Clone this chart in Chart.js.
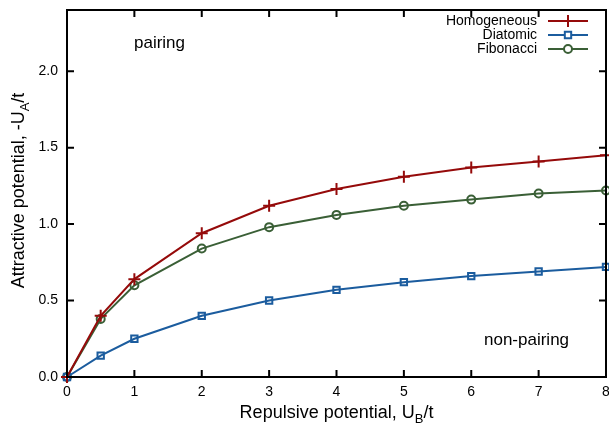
<!DOCTYPE html>
<html>
<head>
<meta charset="utf-8">
<script src="https://cdn.jsdelivr.net/npm/chart.js@4/dist/chart.umd.min.js"></script>
<style>
  html, body { margin: 0; padding: 0; background: #fff; }
  #wrap { width: 609px; height: 431px; }
</style>
</head>
<body>
<div id="wrap"><canvas id="chart" width="609" height="431"></canvas></div>
<script>
const xValues = [0, 0.5, 1, 2, 3, 4, 5, 6, 7, 8];
const homogeneous = [0, 0.40, 0.64, 0.94, 1.12, 1.23, 1.31, 1.37, 1.41, 1.45];
const diatomic = [0, 0.14, 0.25, 0.40, 0.50, 0.57, 0.62, 0.66, 0.69, 0.72];
const fibonacci = [0, 0.38, 0.60, 0.84, 0.98, 1.06, 1.12, 1.16, 1.20, 1.22];
const xTicks = [0, 1, 2, 3, 4, 5, 6, 7, 8];
const yTicks = [0, 0.5, 1.0, 1.5, 2.0];

const RED = "#950a0a";
const BLUE = "#1b5c9e";
const GREEN = "#3a5f36";
const FONT = "'Liberation Sans', Arial, sans-serif";

function toPoints(ys) {
  return xValues.map((x, i) => ({ x: x, y: ys[i] }));
}

const series = [
  { label: "Homogeneous", data: homogeneous, color: RED, style: "cross", radius: 6 },
  { label: "Diatomic", data: diatomic, color: BLUE, style: "rect", radius: 4.5 },
  { label: "Fibonacci", data: fibonacci, color: GREEN, style: "circle", radius: 4 }
];

// draws tick labels, inward ticks, axis titles with subscripts, legend and labels
const decorations = {
  id: "decorations",
  afterDraw(chart) {
    const c = chart.ctx;
    const a = chart.chartArea;
    const xs = chart.scales.x, ys = chart.scales.y;
    c.save();
    c.strokeStyle = "#000";
    c.fillStyle = "#000";
    c.lineWidth = 2;
    c.font = "14px " + FONT;
    xTicks.forEach(v => {
      const px = xs.getPixelForValue(v);
      c.beginPath();
      c.moveTo(px, a.bottom); c.lineTo(px, a.bottom - 7);
      c.moveTo(px, a.top); c.lineTo(px, a.top + 7);
      c.stroke();
      c.textAlign = "center";
      c.textBaseline = "middle";
      c.fillText(String(v), px, a.bottom + 15);
    });
    yTicks.forEach(v => {
      const py = ys.getPixelForValue(v);
      c.beginPath();
      c.moveTo(a.left, py); c.lineTo(a.left + 7, py);
      c.moveTo(a.right, py); c.lineTo(a.right - 7, py);
      c.stroke();
      c.textAlign = "right";
      c.textBaseline = "middle";
      c.fillText(v.toFixed(1), a.left - 9, py);
    });
    c.strokeRect(a.left, a.top, a.right - a.left, a.bottom - a.top);

    // text with subscript
    function subText(parts, x, y) {
      let w = 0;
      parts.forEach(p => { c.font = (p.sub ? "13px " : "18px ") + FONT; w += c.measureText(p.t).width; });
      let cx = x - w / 2;
      parts.forEach(p => {
        c.font = (p.sub ? "13px " : "18px ") + FONT;
        c.fillText(p.t, cx, y + (p.sub ? 5 : 0));
        cx += c.measureText(p.t).width;
      });
    }
    c.textBaseline = "alphabetic";
    c.textAlign = "left";
    subText([{ t: "Repulsive potential, U" }, { t: "B", sub: true }, { t: "/t" }], (a.left + a.right) / 2, 418);
    c.save();
    c.translate(24, (a.top + a.bottom) / 2 - 3);
    c.rotate(-Math.PI / 2);
    subText([{ t: "Attractive potential, -U" }, { t: "A", sub: true }, { t: "/t" }], 0, 0);
    c.restore();

    c.font = "17px " + FONT;
    c.fillText("pairing", 134, 48);
    c.fillText("non-pairing", 484, 345);

    // legend
    c.font = "14px " + FONT;
    c.textAlign = "right";
    c.textBaseline = "middle";
    series.forEach((s, i) => {
      const y = 21 + i * 14;
      c.fillStyle = "#000";
      c.fillText(s.label, 537, y);
      c.strokeStyle = s.color;
      c.lineWidth = 2;
      c.beginPath(); c.moveTo(548, y); c.lineTo(588, y); c.stroke();
      c.fillStyle = "#fff";
      Chart.helpers.drawPoint(c, { pointStyle: s.style, radius: s.radius, borderWidth: 2 }, 568, y);
    });
    c.restore();
  }
};

new Chart(document.getElementById("chart").getContext("2d"), {
  type: "line",
  data: {
    datasets: series.map(s => ({
      label: s.label,
      data: toPoints(s.data),
      borderColor: s.color,
      backgroundColor: "rgba(0,0,0,0)",
      borderWidth: 2,
      pointStyle: s.style,
      pointRadius: s.radius,
      pointBorderWidth: 2,
      pointBorderColor: s.color,
      pointBackgroundColor: "rgba(0,0,0,0)",
      tension: 0,
      clip: false
    }))
  },
  options: {
    responsive: false,
    animation: false,
    layout: { autoPadding: false, padding: { top: 10, right: 3, left: 0, bottom: 0 } },
    plugins: { legend: { display: false }, tooltip: { enabled: false } },
    scales: {
      x: {
        type: "linear",
        min: 0, max: 8,
        afterFit: s => { s.height = 54; },
        grid: { display: false, drawTicks: false },
        border: { display: false },
        ticks: { display: false }
      },
      y: {
        min: 0, max: 2.4,
        afterFit: s => { s.width = 67; },
        grid: { display: false, drawTicks: false },
        border: { display: false },
        ticks: { display: false }
      }
    }
  },
  plugins: [decorations]
});
</script>
</body>
</html>
